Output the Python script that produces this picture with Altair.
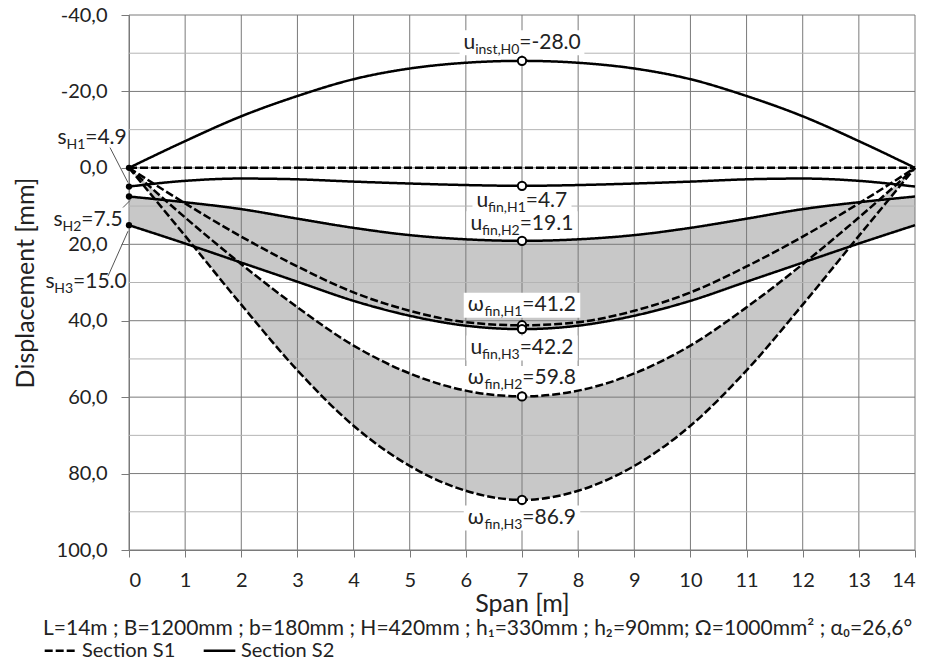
import altair as alt
import pandas as pd

# ---------------- data ----------------
span = list(range(15))  # m
s1_inst = [0.0, 0.0, 0.0, 0.0, 0.0, 0.0, 0.0, 0.0, 0.0, 0.0, 0.0, 0.0, 0.0, 0.0, 0.0]
u_inst_H0 = [0.0, -7.0, -13.5, -18.8, -23.2, -26.0, -27.5, -28.0, -27.5, -26.0, -23.2, -18.8, -13.5, -7.0, 0.0]
u_fin_H1 = [4.9, 3.4, 2.8, 3.0, 3.6, 4.1, 4.5, 4.7, 4.5, 4.1, 3.6, 3.0, 2.8, 3.4, 4.9]
u_fin_H2 = [7.5, 9.0, 10.8, 13.3, 15.7, 17.6, 18.7, 19.1, 18.7, 17.6, 15.7, 13.3, 10.8, 9.0, 7.5]
u_fin_H3 = [15.0, 19.8, 24.8, 29.8, 34.8, 38.7, 41.3, 42.2, 41.3, 38.7, 34.8, 29.8, 24.8, 19.8, 15.0]
w_fin_H1 = [0.0, 9.3, 18.0, 25.8, 32.6, 37.4, 40.4, 41.2, 40.4, 37.4, 32.6, 25.8, 18.0, 9.3, 0.0]
w_fin_H2 = [0.0, 13.0, 25.2, 36.5, 46.5, 53.8, 58.3, 59.8, 58.3, 53.8, 46.5, 36.5, 25.2, 13.0, 0.0]
w_fin_H3 = [0.0, 17.8, 35.8, 53.0, 67.5, 78.0, 84.5, 86.9, 84.5, 78.0, 67.5, 53.0, 35.8, 17.8, 0.0]

y_major = [-40, -20, 0, 20, 40, 60, 80, 100]
y_minor = [-30, -10, 10, 30, 50, 70, 90]

footer = "L=14m ; B=1200mm ; b=180mm ; H=420mm ; h₁=330mm ; h₂=90mm; Ω=1000mm² ; α₀=26,6°"

# ---------------- styles ----------------
FONT = "Lato"
TXT = "#222222"
GRID_MAJ = "#7a7a7a"
GRID_MIN = "#b4b4b4"
FILL = "#c8c8c8"
FS, SFS = 21, 14

W = {**{d: 0.58 for d in "0123456789"}, ".": 0.25, ",": 0.25, "=": 0.58, "-": 0.34,
     "u": 0.55, "n": 0.55, "i": 0.235, "s": 0.425, "t": 0.355, "f": 0.325, "H": 0.755,
     "ω": 0.80}


def tw(s, fs):
    return sum(W.get(c, 0.55) for c in s) * fs


xscale = alt.Scale(domain=[0, 14], nice=False, zero=False)
yscale = alt.Scale(domain=[-40, 100], reverse=True, nice=False, zero=False)
x_axis = alt.Axis(values=span, format="d", title="Span [m]", grid=False,
                  domainColor=GRID_MAJ, tickColor=GRID_MAJ, tickSize=7,
                  labelFont=FONT, labelFontSize=20, labelColor=TXT, labelPadding=13,
                  titleFont=FONT, titleFontSize=25, titleFontWeight="normal",
                  titleColor=TXT, titlePadding=1)
y_axis = alt.Axis(values=y_major, title="Displacement [mm]", grid=False,
                  labelExpr="(datum.value < 0 ? '-' : '') + replace(format(abs(datum.value), '.1f'), '.', ',')",
                  domainColor=GRID_MAJ, tickColor=GRID_MAJ, tickSize=8,
                  labelFont=FONT, labelFontSize=20, labelColor=TXT, labelPadding=14,
                  titleFont=FONT, titleFontSize=25, titleFontWeight="normal",
                  titleColor=TXT, titlePadding=18)


def X(f="x"):
    return alt.X(f, type="quantitative", scale=xscale, axis=x_axis)


def Y(f="v"):
    return alt.Y(f, type="quantitative", scale=yscale, axis=y_axis)


layers = []

# ---------------- shaded bands ----------------
band_u = pd.DataFrame({"x": span, "lo": u_fin_H2, "hi": u_fin_H3})
band_w = pd.DataFrame({"x": span, "lo": w_fin_H2, "hi": w_fin_H3})
for b in (band_u, band_w):
    layers.append(alt.Chart(b).mark_area(color=FILL, opacity=1, interpolate="monotone")
                  .encode(x=X(), y=Y("lo"), y2="hi"))

# ---------------- grid ----------------
layers.append(alt.Chart(pd.DataFrame({"x": span})).mark_rule(color=GRID_MAJ, strokeWidth=1)
              .encode(x=X()))
layers.append(alt.Chart(pd.DataFrame({"v": y_minor})).mark_rule(color=GRID_MIN, strokeWidth=1)
              .encode(y=Y()))
layers.append(alt.Chart(pd.DataFrame({"v": y_major})).mark_rule(color=GRID_MAJ, strokeWidth=1)
              .encode(y=Y()))

# ---------------- mid-span labels setup ----------------
mid_labels = [
    ("u", "inst,H0", u_inst_H0[7]),
    ("u", "fin,H1", u_fin_H1[7]),
    ("u", "fin,H2", u_fin_H2[7]),
    ("ω", "fin,H1", w_fin_H1[7]),
    ("u", "fin,H3", u_fin_H3[7]),
    ("ω", "fin,H2", w_fin_H2[7]),
    ("ω", "fin,H3", w_fin_H3[7]),
]
mid_dy = [-12, 21, -11, -14, 25, -12, 24]

text_layers = []
for (base, sub, val), dy in zip(mid_labels, mid_dy):
    rest = "=" + f"{val:.1f}"
    wb, ws, wr = tw(base, FS), tw(sub, SFS), tw(rest, FS)
    tot = wb + ws + wr
    x0 = -tot / 2
    d = pd.DataFrame({"x": [7], "v": [val]})
    bw, bh = tot + 8, 25
    r = bh / bw
    shape = f"M-1,{-r:.4f}L1,{-r:.4f}L1,{r:.4f}L-1,{r:.4f}Z"
    layers.append(alt.Chart(d).mark_point(shape=shape, size=bw * bw, filled=True, color="white",
                                          opacity=1, strokeWidth=0, yOffset=dy - 6)
                  .encode(x=X(), y=Y()))
    common = dict(align="left", baseline="alphabetic", font=FONT, color=TXT)
    text_layers.append(alt.Chart(d).mark_text(text=base, dx=x0, dy=dy, fontSize=FS, **common)
                       .encode(x=X(), y=Y()))
    text_layers.append(alt.Chart(d).mark_text(text=sub, dx=x0 + wb, dy=dy + 5, fontSize=SFS, **common)
                       .encode(x=X(), y=Y()))
    text_layers.append(alt.Chart(d).mark_text(text=rest, dx=x0 + wb + ws, dy=dy, fontSize=FS, **common)
                       .encode(x=X(), y=Y()))

# ---------------- curves ----------------
series = [
    ("S1 inst", s1_inst, "Section S1"),
    ("w H1", w_fin_H1, "Section S1"),
    ("w H2", w_fin_H2, "Section S1"),
    ("w H3", w_fin_H3, "Section S1"),
    ("u H0", u_inst_H0, "Section S2"),
    ("u H1", u_fin_H1, "Section S2"),
    ("u H2", u_fin_H2, "Section S2"),
    ("u H3", u_fin_H3, "Section S2"),
]
rows = []
for name, vals, sec in series:
    for xv, yv in zip(span, vals):
        rows.append({"x": xv, "v": yv, "series": name, "section": sec})
df_lines = pd.DataFrame(rows)

legend = alt.Legend(title=footer, orient="none", legendX=-86, legendY=603, direction="horizontal",
                    symbolType="stroke", symbolStrokeWidth=2.5, symbolSize=1000,
                    symbolStrokeColor="black", labelFont=FONT, labelFontSize=20, labelColor=TXT,
                    titleFont=FONT, titleFontSize=21, titleFontWeight="normal", titleColor=TXT,
                    titleLimit=1200, titlePadding=-6, labelOffset=4, columnPadding=22,
                    titleAnchor="start")
layers.append(alt.Chart(df_lines).mark_line(color="black", strokeWidth=2.5, interpolate="monotone")
              .encode(x=X(), y=Y(), detail="series:N",
                      strokeDash=alt.StrokeDash("section:N",
                                                scale=alt.Scale(domain=["Section S1", "Section S2"],
                                                                range=[[8, 3], [1, 0]]),
                                                legend=legend)))

# ---------------- markers ----------------
mid_pts = pd.DataFrame({"x": [7] * len(mid_labels), "v": [m[2] for m in mid_labels]})
left_pts = pd.DataFrame({"x": [0, 0, 0, 0],
                         "v": [u_inst_H0[0], u_fin_H1[0], u_fin_H2[0], u_fin_H3[0]]})
layers.append(alt.Chart(left_pts).mark_point(shape="circle", filled=True, color="black", size=40,
                                              opacity=1).encode(x=X(), y=Y()))
layers.append(alt.Chart(mid_pts).mark_point(shape="circle", filled=True, fill="white", stroke="black",
                                             strokeWidth=2, size=70, opacity=1).encode(x=X(), y=Y()))

layers.extend(text_layers)

# ---------------- support settlement labels (left) ----------------
s_labels = [("s", "H1", u_fin_H1[0]), ("s", "H2", u_fin_H2[0]), ("s", "H3", u_fin_H3[0])]
s_dx = [-2, -6, -2]
s_dy = [-43, 29, 63]
s_leader = [(-1, -4, -19, -39), (1, 4, -6, 11), (-1, 6, -21, 51)]
for (base, sub, val), dx, dy, (ox, oy, ox2, oy2) in zip(s_labels, s_dx, s_dy, s_leader):
    rest = "=" + f"{val:.1f}"
    wb, ws, wr = tw(base, FS), tw(sub, SFS), tw(rest, FS)
    x0 = dx - (wb + ws + wr)
    d = pd.DataFrame({"x": [0], "v": [val]})
    layers.append(alt.Chart(d).mark_rule(color="#555555", strokeWidth=1, xOffset=ox, yOffset=oy,
                                         x2Offset=ox2, y2Offset=oy2)
                  .encode(x=X(), y=Y(), x2="x", y2="v"))
    common = dict(align="left", baseline="alphabetic", font=FONT, color=TXT)
    layers.append(alt.Chart(d).mark_text(text=base, dx=x0, dy=dy, fontSize=FS, **common)
                  .encode(x=X(), y=Y()))
    layers.append(alt.Chart(d).mark_text(text=sub, dx=x0 + wb, dy=dy + 5, fontSize=SFS, **common)
                  .encode(x=X(), y=Y()))
    layers.append(alt.Chart(d).mark_text(text=rest, dx=x0 + wb + ws, dy=dy, fontSize=FS, **common)
                  .encode(x=X(), y=Y()))

chart = (alt.layer(*layers)
         .properties(width=786, height=535, autosize=alt.AutoSizeParams(type="none"),
                     padding={"left": 121, "top": 7, "right": 5, "bottom": 110},
                     background="white")
         .configure_view(stroke=None))

chart.save("out.html", embed_options={"renderer": "svg", "actions": False})
